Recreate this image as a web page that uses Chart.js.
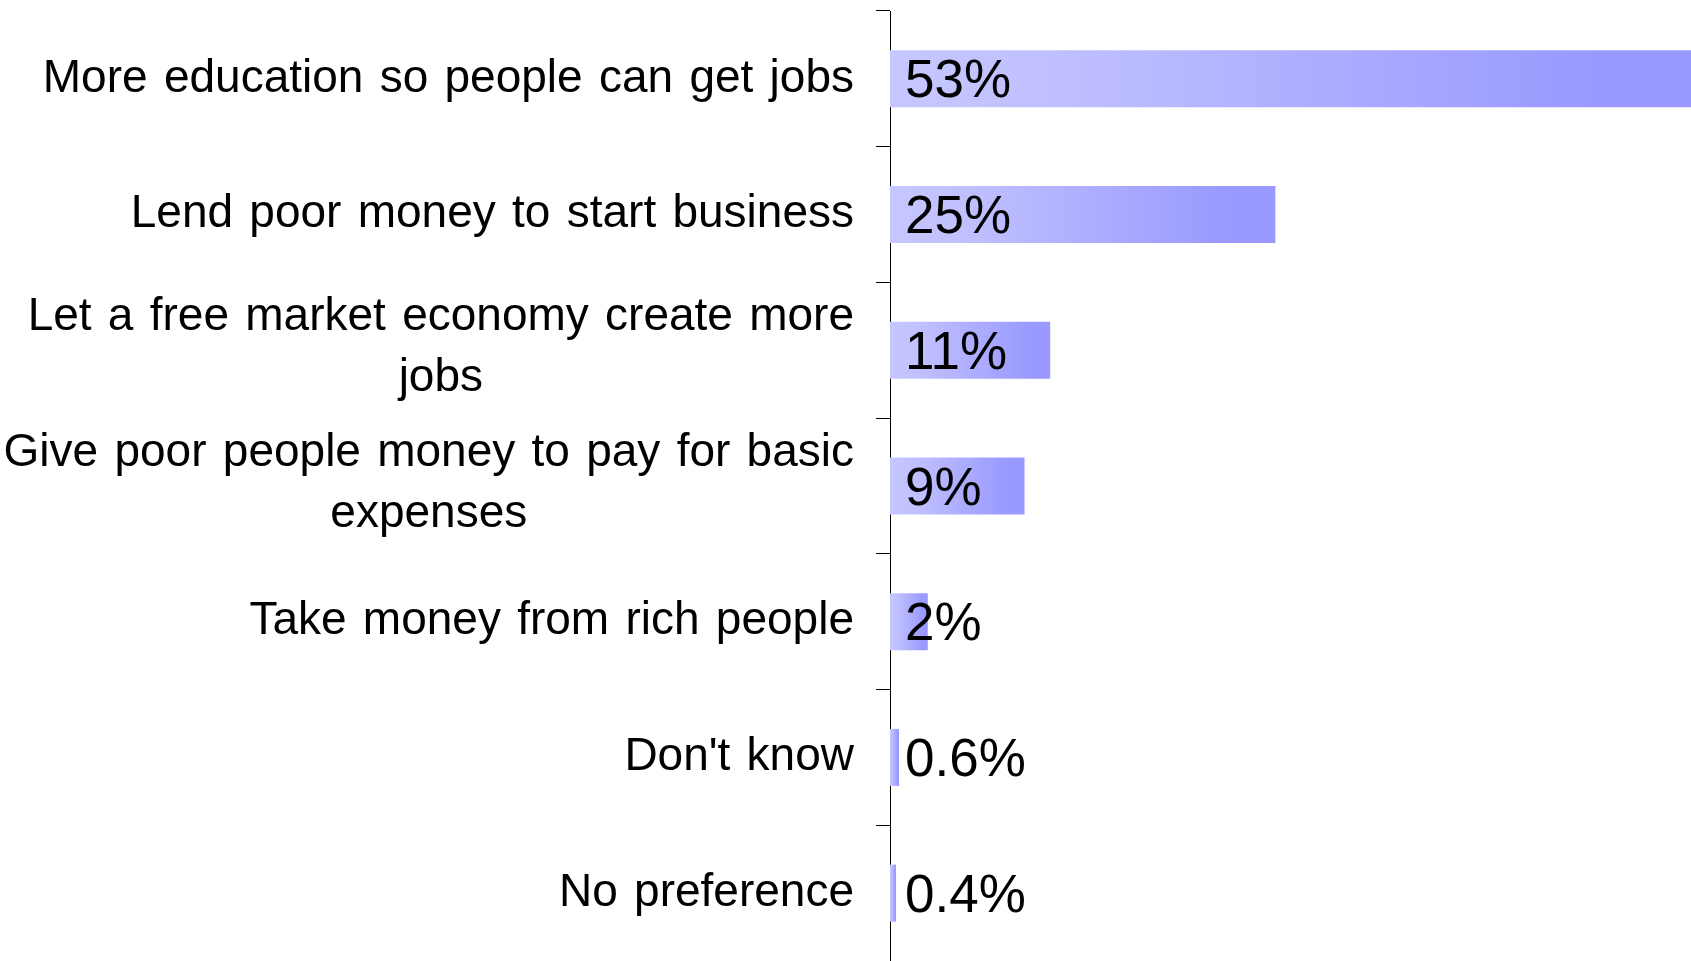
<!DOCTYPE html>
<html>
<head>
<meta charset="utf-8">
<script src="https://cdn.jsdelivr.net/npm/chart.js@4/dist/chart.umd.min.js"></script>
<style>
  html, body { margin: 0; padding: 0; background: #ffffff; }
  #wrap { width: 1691px; height: 961px; }
</style>
</head>
<body>
<div id="wrap"><canvas id="c" width="1691" height="961"></canvas></div>
<script>
// ---- data ----
const categories = [
  ["More education so people can get jobs"],
  ["Lend poor money to start business"],
  ["Let a free market economy create more", "jobs"],
  ["Give poor people money to pay for basic", "expenses"],
  ["Take money from rich people"],
  ["Don't know"],
  ["No preference"]
];
const values = [53, 25.5, 10.6, 8.9, 2.5, 0.6, 0.4];
const valueLabels = ["53%", "25%", "11%", "9%", "2%", "0.6%", "0.4%"];

const FONT = '"Liberation Sans", Arial, Helvetica, sans-serif';

function barGradient(ctx) {
  const chart = ctx.chart;
  const xs = chart.scales.x;
  if (!xs || !chart.chartArea || ctx.dataIndex === undefined) return '#aaaaff';
  const v = ctx.dataset.data[ctx.dataIndex];
  const x0 = xs.getPixelForValue(0);
  const x1 = Math.max(xs.getPixelForValue(v), x0 + 1);
  const g = chart.ctx.createLinearGradient(x0, 0, x1, 0);
  g.addColorStop(0, '#C6C6FF');
  g.addColorStop(0.2, '#C0C0FF');
  g.addColorStop(0.88, '#9999FF');
  g.addColorStop(1, '#9999FF');
  return g;
}

const labelPlugin = {
  id: 'labelPlugin',
  afterDraw(chart) {
    const ctx = chart.ctx;
    const ys = chart.scales.y;
    const xs = chart.scales.x;
    ctx.save();
    // category labels: block right-aligned, lines centred within block
    ctx.font = '46px ' + FONT;
    if ('wordSpacing' in ctx) ctx.wordSpacing = '3.5px';
    ctx.fillStyle = '#000000';
    ctx.textBaseline = 'middle';
    ctx.textAlign = 'center';
    const rightEdge = xs.getPixelForValue(0) - 36;
    const lineH = 61;
    categories.forEach((lines, i) => {
      const yc = ys.getPixelForValue(i) + (lines.length === 1 ? 0 : -2);
      const widths = lines.map(l => ctx.measureText(l).width);
      const bw = Math.max(...widths);
      const cx = rightEdge - bw / 2;
      const y0 = yc - (lines.length - 1) * lineH / 2;
      lines.forEach((l, k) => ctx.fillText(l, cx, y0 + k * lineH));
    });
    // value labels inside bar start
    if ('wordSpacing' in ctx) ctx.wordSpacing = '0px';
    ctx.font = '53px ' + FONT;
    ctx.textAlign = 'left';
    const meta = chart.getDatasetMeta(0);
    meta.data.forEach((bar, i) => {
      ctx.fillText(valueLabels[i], xs.getPixelForValue(0) + 15, bar.y + 4);
    });
    ctx.restore();
  }
};

new Chart(document.getElementById('c'), {
  type: 'bar',
  data: {
    labels: categories,
    datasets: [{
      data: values,
      backgroundColor: barGradient,
      borderWidth: 0,
      categoryPercentage: 1,
      barPercentage: 0.42
    }]
  },
  options: {
    indexAxis: 'y',
    responsive: false,
    animation: false,
    devicePixelRatio: 1,
    layout: { padding: { left: 876, top: 11, right: 0, bottom: 0 } },
    plugins: { legend: { display: false }, tooltip: { enabled: false } },
    scales: {
      x: { display: false, min: 0, max: 53 },
      y: {
        ticks: { display: false },
        grid: { offset: true, drawOnChartArea: false, drawTicks: true, tickLength: 14, color: '#000000', lineWidth: 1 },
        border: { display: true, color: '#000000', width: 1 }
      }
    }
  },
  plugins: [labelPlugin]
});
</script>
</body>
</html>
